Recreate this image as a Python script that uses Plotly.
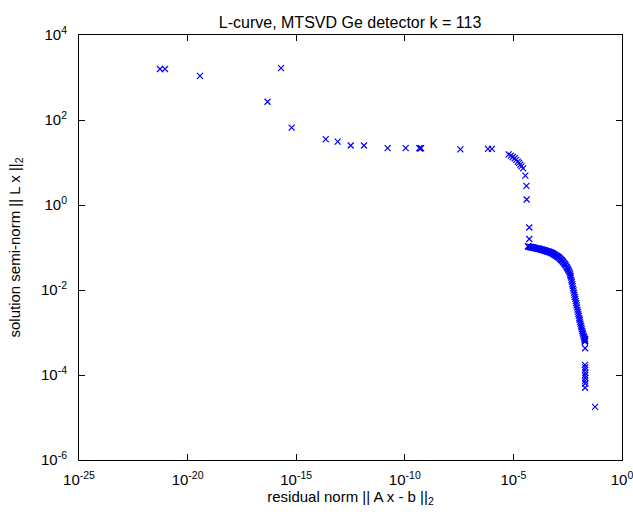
import plotly.graph_objects as go

# log10 of residual norm || A x - b ||_2  and  log10 of solution semi-norm || L x ||_2
# upper branch (individual points)
upper_log_res = [
    -21.27, -21.04, -19.43, -15.70, -16.32, -15.21, -13.64, -13.09, -12.49, -11.88,
    -10.79, -9.96, -9.33, -9.25, -9.29, -7.44, -6.17, -5.99, -5.22, -5.12,
    -5.03, -4.94, -4.87, -4.80, -4.74, -4.68, -4.63, -4.55, -4.45, -4.40,
    -4.39, -4.27, -4.27,
]
upper_log_sn = [
    3.20, 3.20, 3.04, 3.22, 2.43, 1.82, 1.55, 1.49, 1.40, 1.40,
    1.34, 1.34, 1.34, 1.34, 1.33, 1.31, 1.32, 1.32, 1.19, 1.16,
    1.13, 1.10, 1.06, 1.02, 0.99, 0.95, 0.91, 0.86, 0.69, 0.45,
    0.13, -0.53, -0.80,
]
# dense lower branch
band_log_res = [
    -4.33, -4.30, -4.27, -4.24, -4.21, -4.18, -4.15, -4.12, -4.09, -4.06,
    -4.03, -4.00, -3.97, -3.94, -3.91, -3.88, -3.85, -3.82, -3.79, -3.76,
    -3.73, -3.70, -3.67, -3.64, -3.61, -3.58, -3.55, -3.52, -3.49, -3.46,
    -3.43, -3.40, -3.37, -3.34, -3.31, -3.28, -3.25, -3.22, -3.19, -3.16,
    -3.13, -3.10, -3.07, -3.04, -3.01, -2.98, -2.95, -2.92, -2.89, -2.86,
    -2.83, -2.80, -2.77, -2.74, -2.71, -2.68, -2.65, -2.62, -2.59, -2.56,
    -2.53, -2.50, -2.47, -2.44, -2.41,
    -2.39, -2.37, -2.35, -2.33, -2.31, -2.29, -2.27, -2.25, -2.23, -2.21,
    -2.19, -2.17, -2.15, -2.13, -2.11, -2.09, -2.07, -2.05, -2.03, -2.01,
    -1.99, -1.97, -1.95, -1.93, -1.91, -1.89, -1.87, -1.85, -1.83, -1.81,
    -1.79, -1.77, -1.75, -1.73, -1.72, -1.71,
]
band_log_sn = [
    -0.97, -0.98, -0.98, -0.99, -0.99, -0.99, -1.00, -1.00, -1.00, -1.01,
    -1.01, -1.01, -1.02, -1.02, -1.02, -1.03, -1.03, -1.03, -1.04, -1.04,
    -1.05, -1.05, -1.05, -1.06, -1.06, -1.07, -1.07, -1.08, -1.08, -1.09,
    -1.09, -1.10, -1.10, -1.11, -1.11, -1.12, -1.13, -1.13, -1.14, -1.15,
    -1.16, -1.17, -1.18, -1.19, -1.20, -1.21, -1.22, -1.23, -1.24, -1.26,
    -1.27, -1.29, -1.30, -1.32, -1.34, -1.36, -1.38, -1.40, -1.42, -1.45,
    -1.47, -1.50, -1.53, -1.56, -1.59,
    -1.63, -1.67, -1.71, -1.76, -1.81, -1.86, -1.91, -1.96, -2.01, -2.06,
    -2.11, -2.16, -2.21, -2.26, -2.31, -2.36, -2.41, -2.46, -2.51, -2.56,
    -2.61, -2.66, -2.70, -2.75, -2.79, -2.84, -2.88, -2.92, -2.96, -3.00,
    -3.04, -3.08, -3.11, -3.14, -3.17, -3.20,
]
# tail
tail_log_res = [-1.70, -1.69, -1.71, -1.70, -1.70, -1.69, -1.70, -1.69, -1.70,
                -1.69, -1.70, -1.69, -1.70, -1.24]
tail_log_sn = [-3.15, -3.19, -3.22, -3.37, -3.76, -3.82, -3.88, -3.95, -4.01,
               -4.07, -4.14, -4.20, -4.30, -4.75]

log_residual = upper_log_res + band_log_res + tail_log_res
log_seminorm = upper_log_sn + band_log_sn + tail_log_sn
residual = [10 ** v for v in log_residual]
seminorm = [10 ** v for v in log_seminorm]

x_tick_exp = [-25, -20, -15, -10, -5, 0]
y_tick_exp = [-6, -4, -2, 0, 2, 4]

FAMILY = "Liberation Sans, Arial, sans-serif"
tick_font = dict(family=FAMILY, size=15, color="black")
label_font = dict(family=FAMILY, size=15, color="black")
title_font = dict(family=FAMILY, size=16, color="black")

fig = go.Figure(
    go.Scatter(
        x=residual, y=seminorm, mode="markers",
        marker=dict(symbol="x-thin", size=6, line=dict(width=1.2, color="#0000ff"), color="#0000ff"),
        showlegend=False,
    )
)

axis_common = dict(
    type="log", showgrid=False, zeroline=False, showline=True, linecolor="black",
    linewidth=1, mirror="allticks", ticks="inside", ticklen=6, tickcolor="black",
    tickfont=tick_font, automargin=False, ticklabeloverflow="allow",
)

fig.update_layout(
    template="none",
    width=633, height=514,
    margin=dict(l=79, r=11, t=35, b=54, autoexpand=False),
    paper_bgcolor="white", plot_bgcolor="white",
    font=label_font,
    title=dict(text="L-curve, MTSVD Ge detector k = 113", x=0.553, xanchor="center",
               y=0.957, yanchor="middle", font=title_font),
    xaxis=dict(**axis_common, range=[-25, 0], ticklabelstandoff=6,
               tickvals=[10 ** e for e in x_tick_exp],
               ticktext=[f"10<sup>{e}</sup>" for e in x_tick_exp],
               title=dict(text="residual norm || A x - b ||<sub>2</sub>", font=label_font, standoff=4)),
    yaxis=dict(**axis_common, range=[-6, 4], ticklabelstandoff=8,
               tickvals=[10 ** e for e in y_tick_exp],
               ticktext=[f"10<sup>{e}</sup>" for e in y_tick_exp],
               title=dict(text="solution semi-norm || L x ||<sub>2</sub>", font=label_font, standoff=16)),
)

fig.write_html("out.html")
